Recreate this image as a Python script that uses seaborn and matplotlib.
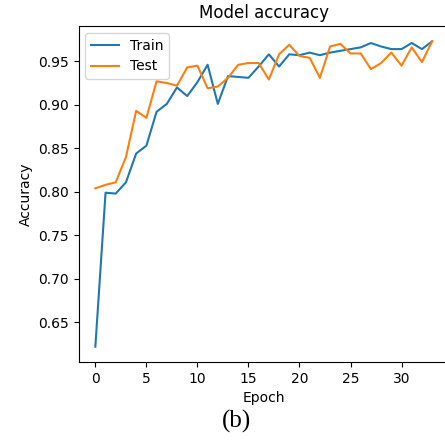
import matplotlib
matplotlib.use("Agg")
import matplotlib.pyplot as plt
import seaborn as sns
import pandas as pd

epochs = [0, 1, 2, 3, 4, 5, 6, 7, 8, 9, 10, 11, 12, 13, 14, 15, 16,
          17, 18, 19, 20, 21, 22, 23, 24, 25, 26, 27, 28, 29, 30, 31, 32, 33]
train_acc = [0.622, 0.799, 0.798, 0.811, 0.844, 0.853, 0.892, 0.901, 0.920,
             0.910, 0.926, 0.946, 0.901, 0.933, 0.932, 0.931, 0.944, 0.958,
             0.944, 0.958, 0.957, 0.960, 0.957, 0.960, 0.962, 0.964, 0.966,
             0.971, 0.967, 0.964, 0.964, 0.971, 0.964, 0.973]
test_acc = [0.804, 0.808, 0.811, 0.840, 0.893, 0.885, 0.927, 0.925, 0.922,
            0.943, 0.945, 0.919, 0.921, 0.931, 0.946, 0.948, 0.948, 0.929,
            0.958, 0.969, 0.956, 0.954, 0.931, 0.967, 0.970, 0.959, 0.959,
            0.941, 0.948, 0.960, 0.945, 0.966, 0.949, 0.973]

df = pd.DataFrame({
    "Epoch": epochs * 2,
    "Accuracy": train_acc + test_acc,
    "Set": ["Train"] * len(epochs) + ["Test"] * len(epochs),
})

fig = plt.figure(figsize=(4.45, 4.40), dpi=100)
ax = fig.add_axes([78.5 / 445, (440 - 362) / 440, (449 - 78.5) / 445, (362 - 26) / 440])
sns.lineplot(data=df, x="Epoch", y="Accuracy", hue="Set",
             palette={"Train": "#1f77b4", "Test": "#ff7f0e"}, linewidth=1.5, ax=ax)
ax.set_title("Model accuracy", fontsize=12)
ax.set_xlabel("Epoch", fontsize=10)
ax.set_ylabel("Accuracy", fontsize=10)
ax.set_xticks([0, 5, 10, 15, 20, 25, 30])
ax.set_yticks([0.65, 0.70, 0.75, 0.80, 0.85, 0.90, 0.95])
ax.tick_params(labelsize=10)
ax.legend(loc="upper left", fontsize=10, title=None)
fig.text(236 / 445, 1 - 421 / 440, "(b)", ha="center", va="center",
         fontsize=18, family="Liberation Serif")
fig.savefig("out.png", dpi=100)
